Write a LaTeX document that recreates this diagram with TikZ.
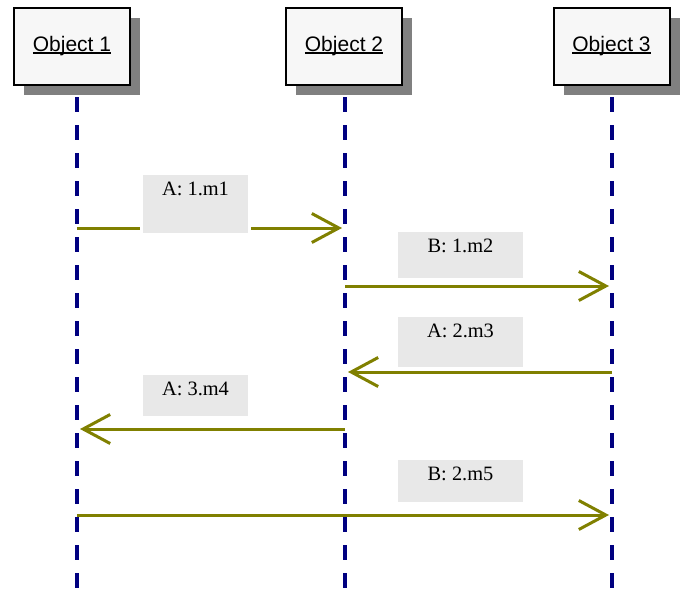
\documentclass[tikz,border=0pt]{standalone}
\usepackage{fontspec}
\setmainfont{Liberation Serif}
\newfontfamily\objfont{Liberation Sans}
\usetikzlibrary{arrows.meta,shadows}
\definecolor{lifeblue}{RGB}{0,0,128}
\definecolor{msgolive}{RGB}{128,128,0}
\definecolor{objfill}{RGB}{247,247,247}
\definecolor{lblgray}{RGB}{232,232,232}
\definecolor{shadowgray}{RGB}{128,128,128}
\newcommand\objname[1]{\setbox0\hbox{#1}\rlap{\rule[-1.15pt]{\wd0}{1pt}}#1}
\begin{document}
\begin{tikzpicture}
 	[x=0.5pt,y=-0.5pt,
 	obj/.style={rectangle,draw,line width=1pt,fill=objfill,minimum width=58pt,minimum height=38.5pt,font=\objfont\fontsize{10.5}{12}\selectfont,drop shadow={shadow xshift=5pt,shadow yshift=-5pt,fill=shadowgray,opacity=1}},
 	life/.style={lifeblue,line width=2pt,dash pattern=on 7.5pt off 6.5pt},
 	msg/.style={msgolive,line width=1.5pt,shorten >=1.5pt,-{Straight Barb[length=13.5pt,width=14.5pt]}},
 	lbl/.style={fill=lblgray,draw=white,line width=1.5pt,anchor=north,inner ysep=0pt,text height=11pt,font=\fontsize{10.2}{12}\selectfont}]
 	\useasboundingbox (0,0) rectangle (685,594);
 	\node[obj,name=o1] at (72,46.5) {\objname{Object 1}};
 	\node[obj,name=o2] at (344,46.5) {\objname{Object 2}};
 	\node[obj,name=o3] at (611.5,46.5) {\objname{Object 3}};
 	\coordinate (l1) at (77,97);
 	\coordinate (l2) at (345,97);
 	\coordinate (l3) at (612,97);
 	\coordinate (e1) at (77,588);
 	\coordinate (e2) at (345,594);
 	\coordinate (e3) at (612,594);
 	\draw[life](l1)--(e1);
 	\draw[life](l2)--(e2);
 	\draw[life](l3)--(e3);
 	\draw[msg](l1|-0,228)--(l2|-0,228);
 	\draw[msg](l2|-0,286)--(l3|-0,286);
 	\draw[msg](l3|-0,372)--(l2|-0,372);
 	\draw[msg](l2|-0,429)--(l1|-0,429);
 	\draw[msg](l1|-0,515)--(l3|-0,515);
 	\node[lbl,name=m1,minimum width=54pt,text depth=19.5pt] at (195.5,171.5) {A: 1.m1};
 	\node[lbl,name=m2,minimum width=64pt,text depth=13.5pt] at (460.5,228.5) {B: 1.m2};
 	\node[lbl,name=m3,minimum width=64pt,text depth=15.5pt] at (460.5,313.5) {A: 2.m3};
 	\node[lbl,name=m4,minimum width=54pt,text depth=11pt] at (195.5,371.5) {A: 3.m4};
 	\node[lbl,name=m5,minimum width=64pt,text depth=11.5pt] at (460.5,456.5) {B: 2.m5};
 \end{tikzpicture}
\end{document}
